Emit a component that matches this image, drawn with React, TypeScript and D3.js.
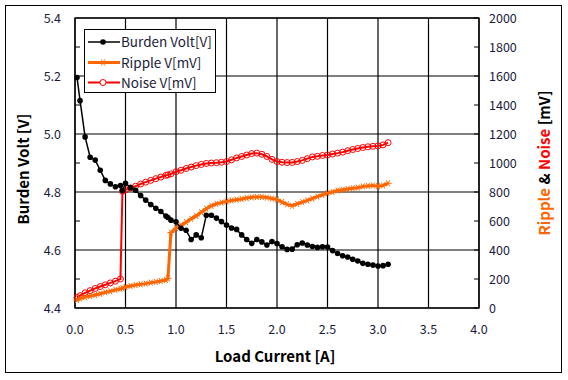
import React from "react";
import * as d3 from "d3";

const current = [0.02, 0.05, 0.1, 0.15, 0.2, 0.25, 0.3, 0.35, 0.4, 0.45, 0.47, 0.5, 0.55, 0.6, 0.65, 0.7, 0.75, 0.8, 0.85, 0.9, 0.92, 0.95, 1.0, 1.05, 1.1, 1.15, 1.2, 1.25, 1.3, 1.35, 1.4, 1.45, 1.5, 1.55, 1.6, 1.65, 1.7, 1.75, 1.8, 1.85, 1.9, 1.95, 2.0, 2.05, 2.1, 2.15, 2.2, 2.25, 2.3, 2.35, 2.4, 2.45, 2.5, 2.55, 2.6, 2.65, 2.7, 2.75, 2.8, 2.85, 2.9, 2.95, 3.0, 3.05, 3.1];

const burdenVolt = [5.195, 5.115, 4.99, 4.92, 4.91, 4.875, 4.84, 4.828, 4.818, 4.822, 4.805, 4.83, 4.815, 4.806, 4.788, 4.772, 4.757, 4.744, 4.733, 4.717, 4.712, 4.703, 4.697, 4.675, 4.668, 4.636, 4.652, 4.642, 4.72, 4.72, 4.71, 4.698, 4.686, 4.676, 4.671, 4.652, 4.636, 4.623, 4.636, 4.628, 4.617, 4.629, 4.622, 4.611, 4.602, 4.603, 4.618, 4.624, 4.617, 4.612, 4.609, 4.611, 4.61, 4.598, 4.588, 4.58, 4.576, 4.568, 4.562, 4.554, 4.551, 4.548, 4.545, 4.546, 4.551];

const rippleMv = [55, 65, 75, 82, 90, 98, 108, 115, 125, 133, 136, 145, 152, 158, 163, 168, 175, 180, 186, 193, 205, 520, 550, 570, 592, 615, 635, 660, 685, 705, 718, 727, 735, 742, 747, 752, 758, 763, 765, 765, 762, 755, 748, 730, 715, 705, 718, 730, 742, 755, 768, 780, 792, 800, 810, 815, 820, 826, 830, 838, 842, 845, 840, 845, 860];

const noiseMv = [72, 85, 105, 120, 135, 148, 160, 173, 185, 200, 805, 815, 828, 840, 855, 868, 880, 892, 903, 915, 918, 925, 940, 950, 962, 972, 982, 990, 997, 1000, 1002, 1005, 1010, 1022, 1035, 1045, 1055, 1065, 1068, 1060, 1045, 1025, 1010, 1005, 1003, 1004, 1010, 1018, 1030, 1042, 1046, 1052, 1055, 1062, 1068, 1075, 1085, 1093, 1100, 1107, 1112, 1115, 1118, 1125, 1140];

const xTicks = [0, 0.5, 1.0, 1.5, 2.0, 2.5, 3.0, 3.5, 4.0];
const leftTicks = [4.4, 4.6, 4.8, 5.0, 5.2, 5.4];
const leftMinor = [4.5, 4.7, 4.9, 5.1, 5.3];
const rightTicks = [0, 200, 400, 600, 800, 1000, 1200, 1400, 1600, 1800, 2000];

const legendLabels = ["Burden Volt[V]", "Ripple V[mV]", "Noise V[mV]"];

const W = 568, H = 380;
const M = { left: 75, right: 479, top: 18, bottom: 308 };
const FONT = "'Noto Sans CJK KR', 'Open Sans', sans-serif";
const ORANGE = "#FF6600";
const RED = "#FF0000";
const TXT = "#1c1c3a";

function Asterisk({ x, y, s, color, sw }: { x: number; y: number; s: number; color: string; sw: number }) {
  const a = s * 0.866, b = s * 0.5;
  return (
    <g stroke={color} strokeWidth={sw}>
      <line x1={x - s} y1={y} x2={x + s} y2={y} />
      <line x1={x - b} y1={y - a} x2={x + b} y2={y + a} />
      <line x1={x - b} y1={y + a} x2={x + b} y2={y - a} />
    </g>
  );
}

export default function App() {
  const x = d3.scaleLinear().domain([0, 4]).range([M.left, M.right]);
  const yL = d3.scaleLinear().domain([4.4, 5.4]).range([M.bottom, M.top]);
  const yR = d3.scaleLinear().domain([0, 2000]).range([M.bottom, M.top]);

  const burdenPts = current.map((c, i) => [x(c), yL(burdenVolt[i])] as [number, number]);
  const ripplePts = current.map((c, i) => [x(c), yR(rippleMv[i])] as [number, number]);
  const noisePts = current.map((c, i) => [x(c), yR(noiseMv[i])] as [number, number]);
  const line = d3.line();

  const lgX = 84.5, lgY = 29.5;
  const rowY = [42, 62.5, 82.5];

  return (
    <svg width={W} height={H} style={{ position: "absolute", left: 0, top: 0, display: "block" }} fontFamily={FONT}>
      <rect x={0} y={0} width={W} height={H} fill="#fff" />
      <rect x={5.5} y={5.5} width={556} height={367} fill="none" stroke="#000" strokeWidth={1} />

      {/* grid */}
      {xTicks.map((t) => (
        <line key={"gx" + t} x1={x(t)} x2={x(t)} y1={M.top} y2={M.bottom} stroke="#000" strokeWidth={1.2} />
      ))}
      {leftTicks.map((t) => (
        <line key={"gy" + t} x1={M.left} x2={M.right} y1={yL(t)} y2={yL(t)} stroke="#000" strokeWidth={1.2} />
      ))}
      <rect x={M.left} y={M.top} width={M.right - M.left} height={M.bottom - M.top} fill="none" stroke="#000" strokeWidth={1.3} />
      {leftMinor.map((t) => (
        <line key={"lm" + t} x1={M.left} x2={M.left + 5} y1={yL(t)} y2={yL(t)} stroke="#000" strokeWidth={1} />
      ))}
      {rightTicks.map((t) => (
        <line key={"rt" + t} x1={M.right - 5} x2={M.right} y1={yR(t)} y2={yR(t)} stroke="#000" strokeWidth={1} />
      ))}

      {/* tick labels */}
      {leftTicks.map((t) => (
        <text key={"lt" + t} x={61} y={yL(t) + 4.5} textAnchor="end" fontSize={12.5} fill={TXT}>{t.toFixed(1)}</text>
      ))}
      {rightTicks.map((t) => (
        <text key={"rl" + t} x={489} y={yR(t) + 4.5} textAnchor="start" fontSize={12.5} fill={TXT}>{t}</text>
      ))}
      {xTicks.map((t) => (
        <text key={"xl" + t} x={x(t)} y={334} textAnchor="middle" fontSize={12.5} fill={TXT}>{t.toFixed(1)}</text>
      ))}

      {/* axis titles */}
      <text x={275} y={362} textAnchor="middle" fontSize={15} fontWeight="bold" fill="#000">Load Current [A]</text>
      <text transform="translate(29,169) rotate(-90)" textAnchor="middle" fontSize={15} fontWeight="bold" fill="#000">Burden Volt [V]</text>
      <text transform="translate(550,163) rotate(-90)" textAnchor="middle" fontSize={15} fontWeight="bold">
        <tspan fill={ORANGE}>Ripple</tspan>
        <tspan fill="#000"> &amp; </tspan>
        <tspan fill={RED}>Noise</tspan>
        <tspan fill="#000"> [mV]</tspan>
      </text>

      {/* noise */}
      <path d={line(noisePts) || ""} fill="none" stroke={RED} strokeWidth={2} />
      {noisePts.map((p, i) => (
        <circle key={"n" + i} cx={p[0]} cy={p[1]} r={3} fill="none" stroke={RED} strokeWidth={1} />
      ))}

      {/* ripple */}
      <path d={line(ripplePts) || ""} fill="none" stroke={ORANGE} strokeWidth={3} />
      {ripplePts.map((p, i) => (
        <Asterisk key={"r" + i} x={p[0]} y={p[1]} s={3.5} color={ORANGE} sw={1} />
      ))}

      {/* burden */}
      <path d={line(burdenPts) || ""} fill="none" stroke="#000" strokeWidth={1.5} />
      {burdenPts.map((p, i) => (
        <circle key={"b" + i} cx={p[0]} cy={p[1]} r={2.8} fill="#000" />
      ))}

      {/* legend */}
      <rect x={lgX} y={lgY} width={131} height={63} fill="#fff" stroke="#000" strokeWidth={1} />
      <line x1={88} x2={120} y1={rowY[0]} y2={rowY[0]} stroke="#000" strokeWidth={1.5} />
      <circle cx={103} cy={rowY[0]} r={2.8} fill="#000" />
      <line x1={88} x2={120} y1={rowY[1]} y2={rowY[1]} stroke={ORANGE} strokeWidth={3} />
      <Asterisk x={103} y={rowY[1]} s={3.5} color={ORANGE} sw={1} />
      <line x1={88} x2={120} y1={rowY[2]} y2={rowY[2]} stroke={RED} strokeWidth={2} />
      <circle cx={103} cy={rowY[2]} r={3} fill="#fff" stroke={RED} strokeWidth={1} />
      {legendLabels.map((l, i) => (
        <text key={l} x={121} y={rowY[i] + 5} fontSize={13.5} fill={TXT}>{l}</text>
      ))}
    </svg>
  );
}
